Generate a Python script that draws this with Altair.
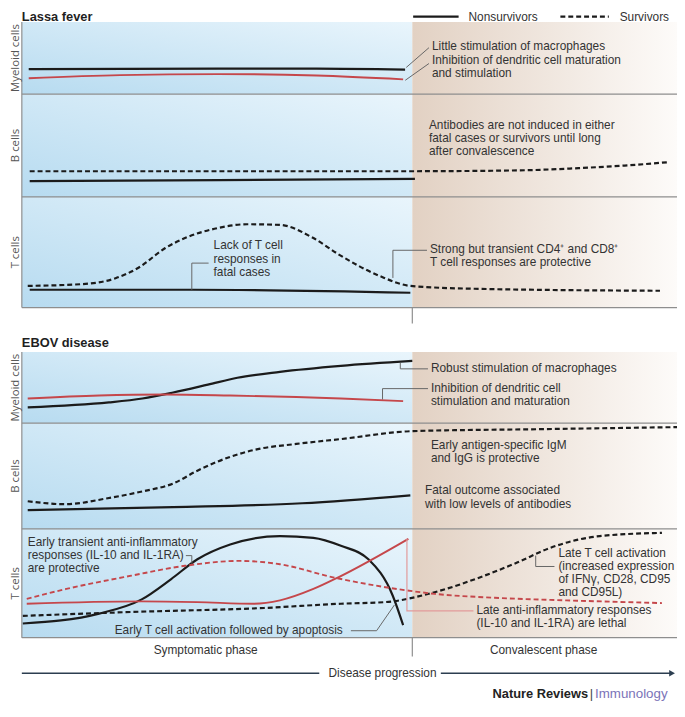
import altair as alt
import pandas as pd

# ---------------- values ----------------
# time runs 0..100 along "Disease progression"; convalescent phase starts at PHASE_START
PHASE_START = 59.6
SECTIONS = ["Lassa fever", "EBOV disease"]
PANELS = ["Myeloid cells", "B cells", "T cells"]

# levels are % of each panel's height
# Lassa fever - myeloid cells
lassa_mac_t = [1.05, 30, 45, 58.5]
lassa_mac_v = [34.7, 35.3, 35.3, 34]
lassa_dc_t = [1.05, 15, 30, 45, 58.2]
lassa_dc_v = [22, 26.3, 27.8, 25.8, 20.5]
# Lassa fever - B cells
lassa_b_surv_t = [1.2, 30, 59.6, 75.7, 85, 92, 98.5]
lassa_b_surv_v = [25, 25, 25, 25.8, 28, 30.5, 33.7]
lassa_b_fatal_t = [1.2, 30, 60]
lassa_b_fatal_v = [15.4, 16.3, 17.6]
# Lassa fever - T cells
lassa_t_surv_t = [0.9, 9.2, 14.3, 17.8, 21.9, 24.9, 29.4, 34.4, 39.4, 44.5, 48.4, 54.6, 59.3, 69.1, 97.4]
lassa_t_surv_v = [19.6, 21.2, 26.5, 36, 53.8, 62.8, 71.2, 75.3, 74.7, 62.8, 47.9, 28.6, 19.6, 17, 15.2]
lassa_t_fatal_t = [1.2, 26.2, 59.3]
lassa_t_fatal_v = [16.1, 16.1, 13.4]

# EBOV disease - myeloid cells
ebov_mac_t = [0.9, 13.3, 18.4, 23.1, 28.4, 32.9, 39.4, 48.7, 59.6]
ebov_mac_v = [22.2, 29.2, 34.7, 43.1, 54.2, 63.9, 72.2, 80.6, 87.5]
ebov_dc_t = [0.9, 11.8, 21.9, 31.8, 41.9, 48.7, 58.2]
ebov_dc_v = [34.7, 38.9, 40.3, 38.9, 36.8, 34.7, 31]
# EBOV disease - B cells
ebov_b_surv_t = [0.9, 6.6, 13.1, 18.4, 23.1, 26.8, 31.8, 36.2, 41.9, 48.7, 59.7, 79.6, 100]
ebov_b_surv_v = [26.2, 23.4, 29, 35.5, 43, 55.1, 68.2, 75.7, 80.4, 85, 92.5, 94.4, 96.3]
ebov_b_fatal_t = [0.9, 23.1, 42.8, 59.3]
ebov_b_fatal_v = [17.8, 20.6, 24.3, 31.8]
# EBOV disease - T cells
ebov_t_fatal_t = [0.15, 11.8, 18.3, 22.8, 26.8, 31.8, 39.4, 44.5, 48.7, 52.9, 56.6, 58.2]
ebov_t_fatal_v = [13, 22.1, 35.2, 53.9, 72.1, 85.7, 93.4, 91.8, 84.5, 72.1, 38.8, 11.5]
ebov_t_surv_t = [0.15, 16.7, 37, 48.7, 55.5, 63, 70.6, 75.6, 80.7, 88.2, 97.7]
ebov_t_surv_v = [20, 23.6, 27.3, 31.2, 32.7, 41.8, 57, 69.1, 82.7, 93.4, 96.4]
ebov_il_surv_t = [0.75, 6.8, 16.7, 24.9, 33.3, 39.4, 47.5, 55.5, 63, 73.2, 83.1, 97.7]
ebov_il_surv_v = [35.7, 44.8, 57, 66.1, 70.6, 67.5, 55.5, 46.4, 40.3, 36.4, 34.3, 31.8]
ebov_il_fatal_t = [0.75, 18.3, 26.8, 35.4, 39.4, 44.5, 48.3, 59]
ebov_il_fatal_v = [31.2, 33.4, 32.7, 31.2, 34.3, 44.8, 55.5, 90.9]

# ---------------- layout (figure pixels) ----------------
X0, PX_PER_T = 22, 6.63


def tx(px):
    return (px - X0) / PX_PER_T


BOUNDS = {0: [(18, 91), (91, 195), (195, 307)],
          1: [(352, 424), (424, 531), (531, 641)]}

curves = [
    (0, 0, "black_solid", lassa_mac_t, lassa_mac_v),
    (0, 0, "red_solid", lassa_dc_t, lassa_dc_v),
    (0, 1, "black_dash", lassa_b_surv_t, lassa_b_surv_v),
    (0, 1, "black_solid", lassa_b_fatal_t, lassa_b_fatal_v),
    (0, 2, "black_dash", lassa_t_surv_t, lassa_t_surv_v),
    (0, 2, "black_solid", lassa_t_fatal_t, lassa_t_fatal_v),
    (1, 0, "black_solid", ebov_mac_t, ebov_mac_v),
    (1, 0, "red_solid", ebov_dc_t, ebov_dc_v),
    (1, 1, "black_dash", ebov_b_surv_t, ebov_b_surv_v),
    (1, 1, "black_solid", ebov_b_fatal_t, ebov_b_fatal_v),
    (1, 2, "red_dash", ebov_il_surv_t, ebov_il_surv_v),
    (1, 2, "red_solid", ebov_il_fatal_t, ebov_il_fatal_v),
    (1, 2, "black_dash", ebov_t_surv_t, ebov_t_surv_v),
    (1, 2, "black_solid", ebov_t_fatal_t, ebov_t_fatal_v),
]
rows = []
for cid, (sec, pan, style, ts, vs) in enumerate(curves):
    top, bot = BOUNDS[sec][pan]
    for i, (t, v) in enumerate(zip(ts, vs)):
        rows.append(dict(id=cid, style=style, t=t, y=bot - v / 100 * (bot - top), o=i))
curves_df = pd.DataFrame(rows)

XS = alt.Scale(domain=[tx(8), tx(685)], nice=False, zero=False)
YS = alt.Scale(domain=[8, 705], nice=False, zero=False, reverse=True)


def X(f="t"):
    return alt.X(f + ":Q", scale=XS, axis=None)


def Y(f="y"):
    return alt.Y(f + ":Q", scale=YS, axis=None)


SANS = "Liberation Sans, Arial, sans-serif"
NARROW = "Liberation Sans Narrow, Arial Narrow, sans-serif"
FS = 12
LH = 13.3
GRAY = "#8e8e8e"
TXT = "#333333"

# ---- backgrounds
blue_rows, beige_rows = [], []
for sec in (0, 1):
    for top, bot in BOUNDS[sec]:
        blue_rows.append(dict(t0=tx(22), t1=PHASE_START, y0=top, y1=bot))
    beige_rows.append(dict(t0=PHASE_START, t1=tx(685), y0=BOUNDS[sec][0][0], y1=BOUNDS[sec][2][1]))

blue = alt.Chart(pd.DataFrame(blue_rows)).mark_rect(
    color=alt.LinearGradient(gradient="linear", x1=0, y1=1, x2=1, y2=0,
                             stops=[alt.GradientStop(color="#b7dbf0", offset=0),
                                    alt.GradientStop(color="#e9f5fc", offset=1)])
).encode(x=X("t0"), x2="t1:Q", y=Y("y0"), y2="y1:Q")
beige = alt.Chart(pd.DataFrame(beige_rows)).mark_rect(
    color=alt.LinearGradient(gradient="linear", x1=0, y1=0, x2=1, y2=0,
                             stops=[alt.GradientStop(color="#e2d1c3", offset=0),
                                    alt.GradientStop(color="#fdfbf9", offset=1)])
).encode(x=X("t0"), x2="t1:Q", y=Y("y0"), y2="y1:Q")

# ---- frame rules
hrows = []
for sec in (0, 1):
    for top, bot in BOUNDS[sec]:
        hrows.append(dict(t0=tx(22), t1=tx(685), y=bot))
hrules = alt.Chart(pd.DataFrame(hrows)).mark_rule(color=GRAY, strokeWidth=1.3).encode(
    x=X("t0"), x2="t1:Q", y=Y("y"))
vrows = [dict(t=tx(22), y0=BOUNDS[0][0][0], y1=BOUNDS[0][2][1]),
         dict(t=tx(22), y0=BOUNDS[1][0][0], y1=BOUNDS[1][2][1]),
         dict(t=PHASE_START, y0=BOUNDS[0][2][1], y1=323),
         dict(t=PHASE_START, y0=BOUNDS[1][2][1], y1=660)]
vrules = alt.Chart(pd.DataFrame(vrows)).mark_rule(color=GRAY, strokeWidth=1.2).encode(
    x=X("t"), y=Y("y0"), y2="y1:Q")


# ---- curves
def curve_layer(style, color, width, dash=None):
    kw = dict(color=color, strokeWidth=width, interpolate="monotone")
    if dash:
        kw["strokeDash"] = dash
    return alt.Chart(curves_df).transform_filter(alt.datum.style == style).mark_line(**kw).encode(
        x=X(), y=Y(), detail="id:N", order="o:Q")


RED = "#c5474b"
DASH = [5, 3]
lines = [curve_layer("black_solid", "#1b1b1b", 2.2),
         curve_layer("black_dash", "#1b1b1b", 2.2, DASH),
         curve_layer("red_solid", RED, 1.9),
         curve_layer("red_dash", RED, 1.9, DASH)]

# ---- leader lines (figure px polylines)
leaders = [
    [(411, 64), (434, 44)],
    [(410, 77), (434, 60)],
    [(194, 289), (194, 262), (211, 262)],
    [(397.5, 277), (397.5, 249), (432, 249)],
    [(405, 363), (405, 369), (433, 369)],
    [(387, 400), (387, 389), (433, 389)],
    [(188, 558), (194, 558), (194, 566)],
    [(355, 634), (381, 634), (399, 608)],
    [(542, 558), (542, 569), (561, 569)],
]
lrows = []
for lid, pts in enumerate(leaders):
    for i, (px, py) in enumerate(pts):
        lrows.append(dict(id=lid, t=tx(px), y=py, o=i))
leader_layer = alt.Chart(pd.DataFrame(lrows)).mark_line(color="#666666", strokeWidth=1).encode(
    x=X(), y=Y(), detail="id:N", order="o:Q")
red_leader = pd.DataFrame([dict(t=tx(px), y=py, o=i) for i, (px, py) in
                           enumerate([(411.7, 541), (411.7, 614), (479, 614)])])
red_leader_layer = alt.Chart(red_leader).mark_line(color="#e29a9a", strokeWidth=1.2).encode(
    x=X(), y=Y(), order="o:Q")

# ---- annotation text blocks (first-line centre)
notes = [
    (["Little stimulation of macrophages"], 437, 43),
    (["Inhibition of dendritic cell maturation", "and stimulation"], 437, 57),
    (["Antibodies are not induced in either", "fatal cases or survivors until long",
      "after convalescence"], 434, 123),
    (["Lack of T cell", "responses in", "fatal cases"], 216, 245),
    (["Strong but transient CD4\u207a and CD8\u207a", "T cell responses are protective"], 435, 249),
    (["Robust stimulation of macrophages"], 436, 369),
    (["Inhibition of dendritic cell", "stimulation and maturation"], 436, 389),
    (["Early antigen-specific IgM", "and IgG is protective"], 436, 447),
    (["Fatal outcome associated", "with low levels of antibodies"], 430, 493),
    (["Early transient anti-inflammatory", "responses (IL-10 and IL-1RA)", "are protective"], 28, 545),
    (["Early T cell activation followed by apoptosis"], 116, 634),
    (["Late T cell activation", "(increased expression", "of IFN\u03b3, CD28, CD95", "and CD95L)"], 565, 556),
    (["Late anti-inflammatory responses", "(IL-10 and IL-1RA) are lethal"], 482, 614),
]
notes_df = pd.DataFrame([dict(text="\n".join(s), t=tx(px), y=py - 0.49 * FS) for s, px, py in notes])
note_layer = alt.Chart(notes_df).mark_text(
    align="left", baseline="top", font=SANS, fontSize=FS, color=TXT, lineBreak="\n", lineHeight=LH
).encode(x=X(), y=Y(), text="text:N")

legend_txt = [("Nonsurvivors", 474, 12.5), ("Survivors", 627, 12.5)]
legend_txt_layer = alt.Chart(pd.DataFrame([dict(text=s, t=tx(px), y=py) for s, px, py in legend_txt])).mark_text(
    align="left", baseline="middle", font=SANS, fontSize=FS, color=TXT
).encode(x=X(), y=Y(), text="text:N")

centre = [("Symptomatic phase", 208, 654), ("Convalescent phase", 550, 654),
          ("Disease progression", 387, 677)]
centre_layer = alt.Chart(pd.DataFrame([dict(text=s, t=tx(px), y=py) for s, px, py in centre])).mark_text(
    align="center", baseline="middle", font=SANS, fontSize=FS, color=TXT
).encode(x=X(), y=Y(), text="text:N")

titles = [("Lassa fever", 22, 12.5), ("EBOV disease", 22, 343)]
title_layer = alt.Chart(pd.DataFrame([dict(text=s, t=tx(px), y=py) for s, px, py in titles])).mark_text(
    align="left", baseline="middle", font=NARROW, fontSize=13, fontWeight="bold", color="#1f1f1f"
).encode(x=X(), y=Y(), text="text:N")

ylabels = []
for sec in (0, 1):
    for name, (top, bot) in zip(PANELS, BOUNDS[sec]):
        ylabels.append(dict(text=name, t=tx(16.5), y=(top + bot) / 2))
ylabel_layer = alt.Chart(pd.DataFrame(ylabels)).mark_text(
    align="center", baseline="middle", angle=270, font="Open Sans", fontSize=11.5, color="#555555"
).encode(x=X(), y=Y(), text="text:N")

# legend samples
legend_df = pd.DataFrame([dict(kind="solid", t0=tx(418), t1=tx(464), y=12.5),
                          dict(kind="dash", t0=tx(567), t1=tx(616), y=12.5)])
leg_solid = alt.Chart(legend_df).transform_filter(alt.datum.kind == "solid").mark_rule(
    color="#1b1b1b", strokeWidth=2.2).encode(x=X("t0"), x2="t1:Q", y=Y("y"))
leg_dash = alt.Chart(legend_df).transform_filter(alt.datum.kind == "dash").mark_rule(
    color="#1b1b1b", strokeWidth=2.2, strokeDash=DASH).encode(x=X("t0"), x2="t1:Q", y=Y("y"))

# disease progression arrow
arrow_df = pd.DataFrame([dict(t0=tx(22), t1=tx(323), y=677), dict(t0=tx(446), t1=tx(678), y=677)])
arrow_rules = alt.Chart(arrow_df).mark_rule(color="#2c3e50", strokeWidth=1.6).encode(
    x=X("t0"), x2="t1:Q", y=Y("y"))
arrow_head = alt.Chart(pd.DataFrame([dict(t=tx(680), y=677)])).mark_point(
    shape="triangle-right", filled=True, size=45, color="#2c3e50", opacity=1
).encode(x=X(), y=Y())

# branding
brand = alt.Chart(pd.DataFrame([dict(text="Nature Reviews", t=tx(595), y=698)])).mark_text(
    align="right", baseline="middle", font=NARROW, fontSize=13, fontWeight="bold", color="#222222"
).encode(x=X(), y=Y(), text="text:N")
bar = alt.Chart(pd.DataFrame([dict(text="|", t=tx(598.5), y=698)])).mark_text(
    align="center", baseline="middle", font=SANS, fontSize=13, color="#444444"
).encode(x=X(), y=Y(), text="text:N")
immu = alt.Chart(pd.DataFrame([dict(text="Immunology", t=tx(602), y=698)])).mark_text(
    align="left", baseline="middle", font=SANS, fontSize=13.5, color="#7b74b8"
).encode(x=X(), y=Y(), text="text:N")

chart = alt.layer(
    blue, beige, hrules, vrules, *lines, leader_layer, red_leader_layer,
    note_layer, legend_txt_layer, centre_layer, title_layer, ylabel_layer, leg_solid, leg_dash,
    arrow_rules, arrow_head, brand, bar, immu
).properties(
    width=677, height=697, padding=0, autosize=alt.AutoSizeParams(type="none")
).configure_view(strokeWidth=0)

chart.save("out.html", embed_options={"renderer": "svg", "actions": False})
